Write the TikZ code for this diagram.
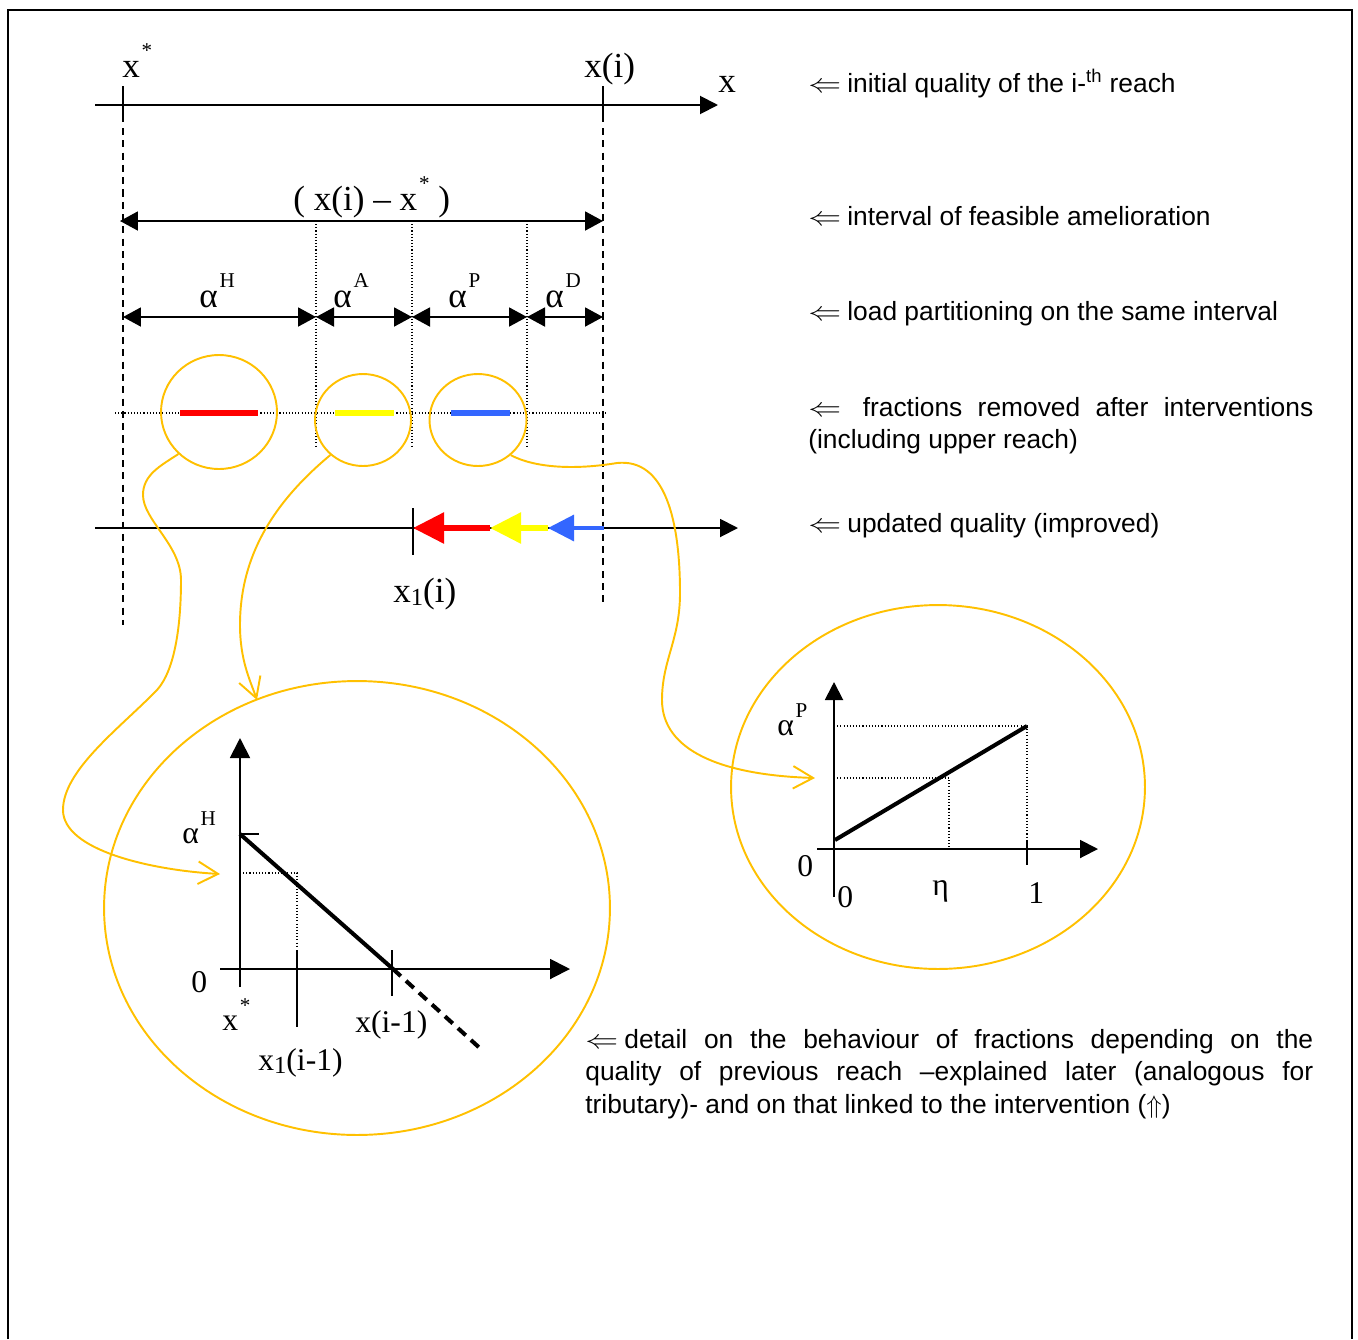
\documentclass[tikz,border=0pt]{standalone}
\usepackage{fontspec}
\setmainfont{Liberation Serif}
\setsansfont{Liberation Sans}
\usetikzlibrary{arrows.meta, shapes.geometric}

\definecolor{gold}{RGB}{255,192,0}
\definecolor{fracred}{RGB}{255,0,0}
\definecolor{fracyellow}{RGB}{255,255,0}
\definecolor{fracblue}{RGB}{51,102,255}

\newcommand{\upidx}[1]{\kern1pt\raisebox{0.55em}{\fontsize{12}{12}\selectfont #1}}
\newcommand{\lowidx}[1]{\raisebox{-0.1em}{\fontsize{14}{14}\selectfont #1}}
\newcommand{\notearrow}{\makebox[0.78cm][l]{\scalebox{1.3}[1.05]{$\Leftarrow$}}}

\begin{document}
\begin{tikzpicture}[
    x=0.02cm, y=-0.02cm,
    frame/.style={line width=1.2pt},
    axis/.style={line width=1.1pt, -{Triangle[length=3.6mm, width=3.6mm]}},
    dim/.style={line width=1.1pt, {Triangle[length=3.6mm, width=3.8mm]}-{Triangle[length=3.6mm, width=3.8mm]}},
    tick/.style={line width=1.1pt},
    guide/.style={line width=1.1pt, dash pattern=on 4pt off 3pt},
    dotline/.style={line width=0.6pt, dash pattern=on 0.6pt off 1.2pt},
    curve/.style={line width=2.3pt},
    lens/.style={ellipse, draw=gold, line width=1.1pt, inner sep=0pt},
    link/.style={gold, line width=1.1pt, -{Straight Barb[length=4mm, width=4.5mm]}},
    lbl/.style={font=\fontsize{20}{24}\selectfont, inner sep=0pt, anchor=base west},
    glbl/.style={font=\fontsize{18}{22}\selectfont, inner sep=0pt, anchor=base west},
    note/.style={font=\sffamily\fontsize{15}{18.7}\selectfont, inner sep=0pt, anchor=base west}
]
\useasboundingbox (0,0) rectangle (1358,1339);

% Frame
\draw[frame] (8,1339) -- (8,10) -- (1352,10) -- (1352,1339);

% Initial quality axis
\coordinate (ax0) at (95,105);
\coordinate (ax1) at (718,105);
\draw[axis] (ax0) -- (ax1);
\draw[tick] (123,86) -- (123,122);
\draw[tick] (603,86) -- (603,122);
\draw[guide] (123,128) -- (123,625);
\draw[guide] (603,128) -- (603,605);
\node[lbl] (lxs) at (122,77) {x\upidx{*}};
\node[lbl] (lxi) at (584,77) {x(i)};
\node[lbl] (lx) at (718,92) {x};

% Interval of feasible amelioration
\coordinate (i0) at (120,221);
\coordinate (i1) at (603,221);
\draw[dim] (i0) -- (i1);
\node[lbl] (ldiff) at (293,210) {( x(i) – x\upidx{*} )};
\foreach \x in {316,412,527}
    \draw[dotline] (\x,221) -- (\x,448);

% Load partitioning
\coordinate (p0) at (123,317);
\coordinate (p1) at (316,317);
\coordinate (p2) at (412,317);
\coordinate (p3) at (527,317);
\coordinate (p4) at (603,317);
\foreach \a/\b in {p0/p1, p1/p2, p2/p3, p3/p4}
    \draw[dim] (\a) -- (\b);
\node[lbl] (laH) at (199,307) {α\upidx{H}};
\node[lbl] (laA) at (333,307) {α\upidx{A}};
\node[lbl] (laP) at (448,307) {α\upidx{P}};
\node[lbl] (laD) at (545,307) {α\upidx{D}};

% Fractions removed
\draw[dotline] (115,413) -- (606,413);
\draw[fracred, line width=3.4pt] (180,413) -- (258,413);
\draw[fracyellow, line width=3.4pt] (335,413) -- (394,413);
\draw[fracblue, line width=3.4pt] (451,413) -- (510,413);
\node[lens, minimum width=2.32cm, minimum height=2.28cm] (cH) at (219,412) {};
\node[lens, minimum width=1.92cm, minimum height=1.84cm] (cA) at (363,420) {};
\node[lens, minimum width=1.94cm, minimum height=1.84cm] (cP) at (478,420) {};

% Updated quality axis
\coordinate (bx0) at (95,528);
\coordinate (bx1) at (738,528);
\coordinate (q1) at (413,528);
\coordinate (qr) at (490,528);
\coordinate (qy) at (548,528);
\coordinate (q0) at (604,528);
\draw[axis] (bx0) -- (bx1);
\draw[fracblue, line width=1.8pt, -{Triangle[length=0.52cm, width=0.52cm]}] (q0) -- (qy);
\draw[fracyellow, line width=3.2pt, -{Triangle[length=0.62cm, width=0.6cm]}] (qy) -- (qr);
\draw[fracred, line width=3.2pt, -{Triangle[length=0.62cm, width=0.6cm]}] (qr) -- (q1);
\draw[tick] (413,508) -- (413,555);
\node[lbl] (lx1) at (393,602) {x\lowidx{1}(i)};

% Detail on alpha^H
\node[lens, minimum width=10.12cm, minimum height=9.08cm] (zoomH) at (357,908) {};
\draw[axis, -{Triangle[length=0.4cm, width=0.4cm]}] (240,987) -- (240,738);
\draw[axis, -{Triangle[length=0.4cm, width=0.4cm]}] (220,969) -- (570,969);
\draw[curve] (240,834) -- (393,969);
\draw[curve, dash pattern=on 6pt off 4pt] (393,969) -- (483,1051);
\draw[tick] (240,834) -- (259,834);
\draw[tick] (297,950) -- (297,1027);
\draw[tick] (392,950) -- (392,996);
\draw[dotline] (240,873) -- (297,873) -- (297,948);
\node[glbl] (gaH) at (182,843) {α\upidx{H}};
\node[glbl] (g0H) at (191,992) {0};
\node[glbl] (gxs) at (222,1030) {x\upidx{*}};
\node[glbl] (gx1) at (258,1070) {x\lowidx{1}(i-1)};
\node[glbl] (gxp) at (355,1032) {x(i-1)};

% Detail on alpha^P
\node[lens, minimum width=8.28cm, minimum height=7.28cm] (zoomP) at (938,787) {};
\draw[axis] (834,897) -- (834,682);
\draw[axis] (817,849) -- (1098,849);
\draw[curve] (835,840) -- (1027,726);
\draw[dotline] (834,726) -- (1027,726) -- (1027,849);
\draw[dotline] (834,778) -- (949,778) -- (949,849);
\draw[tick] (1027,840) -- (1027,865);
\node[glbl] (gaP) at (777,735) {α\upidx{P}};
\node[glbl] (g0y) at (797,876) {0};
\node[glbl] (g0x) at (837,907) {0};
\node[glbl] (geta) at (932,895) {η};
\node[glbl] (g1) at (1028,903) {1};

% Links from the fractions to the details
\coordinate (tH) at (220,874);
\coordinate (tA) at (257,700);
\coordinate (tP) at (815,778);
\draw[link] (cH.-134) .. controls (160,466) and (143,475) .. (143,495)
    .. controls (143,520) and (181,545) .. (181,580)
    .. controls (181,625) and (175,670) .. (157,690)
    .. controls (120,728) and (63,770) .. (63,810)
    .. controls (63,850) and (150,870) .. (tH);
\draw[link] (cA.-133) .. controls (280,497) and (240,550) .. (240,625)
    .. controls (240,660) and (250,680) .. (tA);
\draw[link] (cP.-47) .. controls (535,468) and (575,470) .. (617,463)
    .. controls (665,458) and (680,520) .. (680,593)
    .. controls (680,640) and (662,660) .. (662,700)
    .. controls (662,750) and (720,775) .. (tP);

% Notes
\node[note] (n1) at (808,92) {\notearrow initial quality of the i-\textsuperscript{th} reach};
\node[note] (n2) at (808,225) {\notearrow interval of feasible amelioration};
\node[note] (n3) at (808,320) {\notearrow load partitioning on the same interval};
\node[note, text width=10.1cm, align=justify] (n4) at (808,416)
    {\notearrow\ fractions removed after interventions\linebreak (including upper reach)};
\node[note] (n5) at (808,532) {\notearrow updated quality (improved)};
\node[note, text width=14.56cm, align=justify] (n6) at (585,1048)
    {\notearrow detail on the behaviour of fractions depending on the\linebreak
     quality of previous reach –explained later (analogous for\linebreak
     tributary)- and on that linked to the intervention ($\Uparrow$)};

\end{tikzpicture}
\end{document}
